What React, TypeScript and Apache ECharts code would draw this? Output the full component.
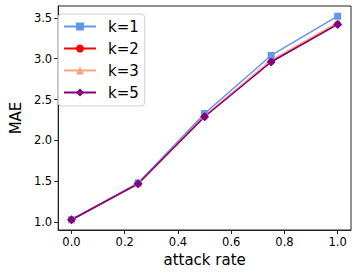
import React, { useEffect, useRef } from "react";
import * as echarts from "echarts";

const attackRates = [0, 0.25, 0.5, 0.75, 1.0];
const k1 = [1.03, 1.48, 2.33, 3.04, 3.52];
const k2 = [1.03, 1.47, 2.30, 2.97, 3.43];
const k3 = [1.03, 1.47, 2.30, 2.98, 3.44];
const k5 = [1.03, 1.47, 2.29, 2.96, 3.42];
const xTicks = [0, 0.2, 0.4, 0.6, 0.8, 1.0];
const yTicks = [1.0, 1.5, 2.0, 2.5, 3.0, 3.5];

const FONT = "DejaVu Sans";

export default function App() {
  const ref = useRef<HTMLDivElement>(null);
  useEffect(() => {
    const chart = echarts.init(ref.current!, null, { renderer: "svg" });
    const mk = (name: string, data: number[], color: string, symbol: string, size: number) => ({
      name,
      type: "line",
      data: attackRates.map((x, i) => [x, data[i]]),
      symbol,
      symbolSize: size,
      lineStyle: { color, width: 1.5 },
      itemStyle: { color },
      emphasis: { disabled: true },
    });
    chart.setOption({
      animation: false,
      textStyle: { fontFamily: FONT },
      grid: {
        left: 50,
        right: 6,
        top: 6,
        bottom: 43,
        show: true,
        borderColor: "#222",
        borderWidth: 1,
      },
      legend: {
        orient: "vertical",
        left: 58,
        top: 14,
        padding: [5, 6, 6, 5],
        itemGap: 7,
        itemWidth: 32,
        itemHeight: 10,
        borderColor: "#d0d0d0",
        borderWidth: 1,
        borderRadius: 4,
        backgroundColor: "rgba(255,255,255,0.8)",
        textStyle: { fontSize: 15, fontFamily: FONT, color: "#000", lineHeight: 15, padding: [0, 0, 0, 7] },
        data: ["k=1", "k=2", "k=3", "k=5"],
      },
      xAxis: {
        type: "value",
        min: -0.05,
        max: 1.05,
        name: "attack rate",
        nameLocation: "middle",
        nameGap: 20,
        nameTextStyle: { fontSize: 15, color: "#000", fontFamily: FONT },
        axisLine: { show: true, onZero: false, lineStyle: { color: "#222", width: 1 } },
        axisTick: { show: true, length: 4, customValues: xTicks, lineStyle: { color: "#222" } },
        axisLabel: {
          customValues: xTicks,
          formatter: (v: number) => v.toFixed(1),
          fontSize: 11.5,
          color: "#000",
          margin: 6,
          fontFamily: FONT,
        },
        splitLine: { show: false },
      },
      yAxis: {
        type: "value",
        min: 0.905,
        max: 3.645,
        name: "MAE",
        nameLocation: "middle",
        nameGap: 30,
        nameTextStyle: { fontSize: 15, color: "#000", fontFamily: FONT },
        axisLine: { show: true, onZero: false, lineStyle: { color: "#222", width: 1 } },
        axisTick: { show: true, length: 4, customValues: yTicks, lineStyle: { color: "#222" } },
        axisLabel: {
          customValues: yTicks,
          formatter: (v: number) => v.toFixed(1),
          fontSize: 11.5,
          color: "#000",
          margin: 6,
          fontFamily: FONT,
        },
        splitLine: { show: false },
      },
      series: [
        mk("k=1", k1, "#6495ED", "rect", 7),
        mk("k=2", k2, "#FF0000", "circle", 6),
        mk("k=3", k3, "#FFA07A", "triangle", 7),
        mk("k=5", k5, "#800080", "diamond", 9),
      ],
    });
    return () => chart.dispose();
  }, []);
  return <div ref={ref} style={{ width: 357, height: 273, position: "absolute", left: 0, top: 0 }} />;
}
